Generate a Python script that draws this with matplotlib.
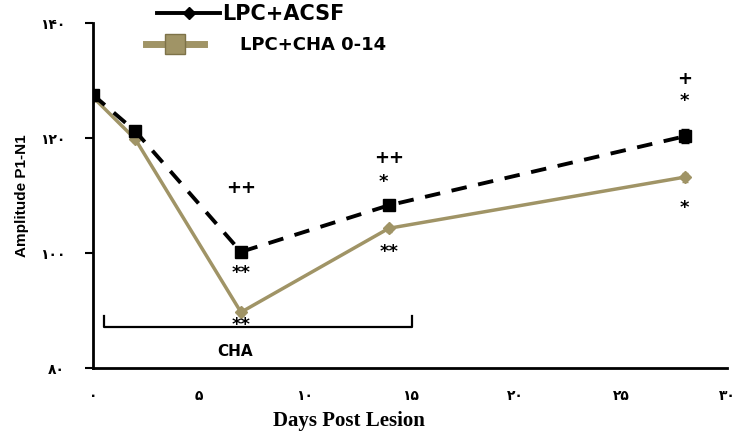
import matplotlib.pyplot as plt
from matplotlib.lines import Line2D

# data
days = [0, 2, 7, 14, 28]
acsf = [127.5, 121.2, 100.2, 108.3, 120.3]
acsf_err = [0.6, 0.6, 0.8, 0.6, 1.2]
cha = [127.1, 119.8, 89.7, 104.3, 113.2]
cha_err = [0.5, 0.5, 0.6, 0.6, 0.8]

x_ticks = [0, 5, 10, 15, 20, 25, 30]
x_labels = ['۰', '۵', '۱۰', '۱۵', '۲۰', '۲۵', '۳۰']
y_ticks = [80, 100, 120, 140]
y_labels = ['۸۰', '۱۰۰', '۱۲۰', '۱۴۰']

# significance marks: (x, y, text)
marks = [(7, 111.3, '++'), (7, 96.6, '**'), (7, 87.4, '**'),
         (14, 116.6, '++'), (13.75, 112.4, '*'), (14, 100.2, '**'),
         (28, 130.2, '+'), (28, 126.4, '*'), (28, 107.8, '*')]

tan = '#a09466'

fig = plt.figure(figsize=(7.36, 4.34), dpi=100)
ax = fig.add_axes([0.1264, 0.152, 0.8614, 0.795])

ax.errorbar(days, cha, yerr=cha_err, color=tan, lw=2.5, marker='D', ms=6,
            mfc=tan, mec=tan, capsize=2, zorder=2)
ax.errorbar(days, acsf, yerr=acsf_err, color='black', lw=2.8, ls=(0, (4, 3)),
            marker='s', ms=9, capsize=3, zorder=3)

for x, y, t in marks:
    size = 13 if '*' in t else 13
    ax.text(x, y, t, ha='center', va='center', fontsize=size, fontweight='bold')

# CHA treatment bracket
ax.plot([0.5, 0.5, 15.1, 15.1], [89.0, 87.1, 87.1, 89.0], color='black', lw=1.6)
ax.text(6.7, 82.9, 'CHA', ha='center', va='center', fontsize=11,
        fontweight='bold')

ax.set_xlim(0, 30)
ax.set_ylim(80, 140)
ax.set_xticks(x_ticks)
ax.set_xticklabels(x_labels, fontsize=10, fontweight='bold')
ax.set_yticks(y_ticks)
ax.set_yticklabels(y_labels, fontsize=10, fontweight='bold')
ax.tick_params(axis='x', length=0, pad=15)
ax.tick_params(axis='y', length=6, width=1.5, pad=14)
ax.spines['top'].set_visible(False)
ax.spines['right'].set_visible(False)
ax.spines['left'].set_linewidth(2)
ax.spines['bottom'].set_linewidth(2)

ax.set_xlabel('Days Post Lesion', family='Liberation Serif', fontsize=15,
              fontweight='bold')
ax.xaxis.set_label_coords(0.404, -0.125)
ax.set_ylabel('Amplitude P1-N1', family='Liberation Sans', fontsize=11,
              fontweight='bold', labelpad=8)

# two separate legend rows, as in the reference
h1 = Line2D([], [], color='black', lw=2.8, marker='D', ms=6)
h2 = Line2D([], [], color=tan, lw=5, marker='s', ms=14, mec='#7d7248')
leg1 = ax.legend([h1], ['LPC+ACSF'], loc='center left',
                 bbox_to_anchor=(0.085, 1.025), frameon=False,
                 handlelength=3.0, handletextpad=0.1, borderpad=0,
                 prop={'family': 'DejaVu Sans', 'weight': 'bold', 'size': 15})
ax.add_artist(leg1)
ax.legend([h2], ['LPC+CHA 0-14'], loc='center left',
          bbox_to_anchor=(0.07, 0.935), frameon=False,
          handlelength=3.2, handletextpad=2.0, borderpad=0,
          prop={'family': 'DejaVu Sans', 'weight': 'bold', 'size': 13})

fig.savefig('out.png', dpi=100)
